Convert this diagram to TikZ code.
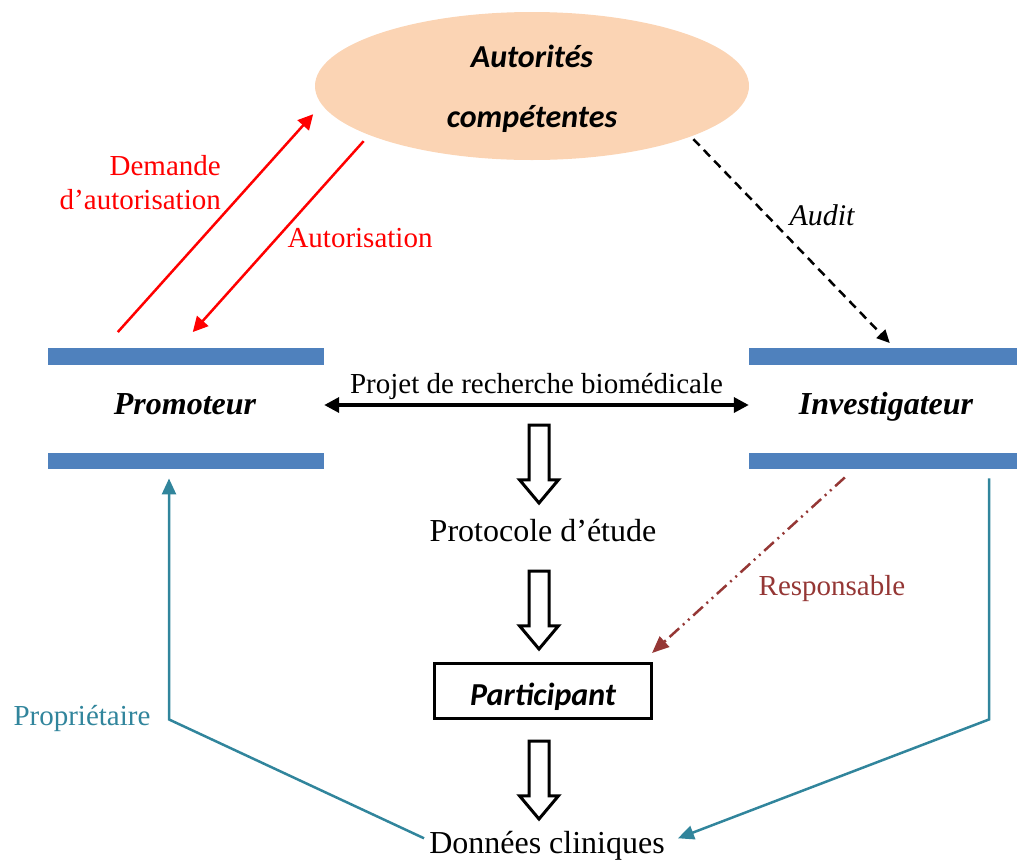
\documentclass[tikz,border=0pt]{standalone}
\usepackage{fontspec}
\setmainfont{Liberation Serif}
\newfontfamily\calibri{Carlito}
\usetikzlibrary{shapes.geometric, shapes.arrows, arrows.meta, calc, positioning}

\definecolor{peach}{HTML}{FBD4B4}
\definecolor{barblue}{HTML}{4F81BD}
\definecolor{propteal}{HTML}{31859C}
\definecolor{respred}{HTML}{953735}

\begin{document}
\begin{tikzpicture}[x=1pt, y=-1pt, >={Triangle[length=15pt,width=15pt]},
    txt/.style={inner sep=0pt, anchor=base, font=\fontsize{32}{38}\selectfont},
    lbl/.style={inner sep=0pt, anchor=base, font=\fontsize{29}{34}\selectfont},
    actor/.style={txt, font=\bfseries\itshape\fontsize{32}{38}\selectfont},
    bar/.style={fill=barblue, minimum width=276pt, minimum height=16.5pt, inner sep=0pt},
    hollow/.style={draw, line width=3pt, single arrow, rotate=-90, anchor=tail, minimum height=78pt, inner xsep=0pt, inner ysep=8.5pt, single arrow head extend=9.5pt, single arrow tip angle=80},
    req/.style={red, line width=2.5pt, ->},
    audit/.style={line width=2.5pt, dash pattern=on 9pt off 6pt, -{Triangle[length=13pt,width=12pt]}},
    resp/.style={respred, line width=2.5pt, dash pattern=on 13pt off 5pt on 2pt off 5pt on 2pt off 5pt, -{Triangle[length=17pt,width=14pt]}},
    owner/.style={propteal, line width=2.5pt, -{Triangle[length=16pt,width=14pt]}}]

    \useasboundingbox (0,0) rectangle (1017,863);

    % authorities
    \node[ellipse, fill=peach, minimum width=434pt, minimum height=148pt, inner sep=0pt, align=center, text depth=0pt,
          font=\calibri\bfseries\itshape\fontsize{32}{60}\selectfont] (auth) at (532,86) {Autorités\\compétentes};

    % the two actors between their bars
    \node[bar] (promotop) at (186,356.5) {};
    \node[bar] (promobot) at (186,461) {};
    \node[bar, minimum width=268pt] (invtop) at (883,356.5) {};
    \node[bar, minimum width=268pt] (invbot) at (883,461) {};
    \node[actor] (promo) at (185,414) {Promoteur};
    \node[actor] (inv) at (886,414) {Investigateur};

    \draw[<->, line width=3.5pt] ([yshift=-48.5pt]promotop.east) -- ([yshift=-48.5pt]invtop.west)
        node[lbl, midway, above=4pt] (projet) {Projet de recherche biomédicale};

    % study chain
    \node[hollow] (arr1) at (539,423.5) {};
    \node[txt] (protocole) at (543,541) {Protocole d’étude};
    \node[hollow] (arr2) at (539,569.5) {};
    \node[draw, line width=3pt, minimum width=217pt, minimum height=55pt, inner sep=0pt, text height=28pt, text depth=0pt,
          font=\calibri\bfseries\itshape\fontsize{32}{38}\selectfont] (part) at (543,691) {Participant};
    \node[hollow] (arr3) at (539,739.5) {};
    \node[txt] (donnees) at (547,853) {Données cliniques};

    % labels
    \node[lbl, red, anchor=east, align=right] (demande) at (221,183) {Demande\\d’autorisation};
    \node[lbl, red] (autor) at (360,247) {Autorisation};
    \node[lbl, font=\itshape\fontsize{30}{34}\selectfont] (auditlbl) at (822,225) {Audit};
    \node[lbl, respred] (resplbl) at (832,595) {Responsable};
    \node[lbl, propteal] (proplbl) at (82,725) {Propriétaire};

    % connectors
    \draw[req] ([xshift=70pt,yshift=16pt]promotop.north west) -- ([xshift=-18pt]auth.188);
    \draw[req] ([xshift=-11pt,yshift=-4pt]auth.198) -- ([xshift=145pt,yshift=16pt]promotop.north west);
    \draw[audit] ([xshift=4pt,yshift=-2pt]auth.342) -- ([xshift=141pt,yshift=5pt]invtop.north west);
    \draw[resp] ([xshift=96pt,yshift=-8pt]invbot.south west) -- ([xshift=-1pt,yshift=9pt]part.north east);
    \draw[owner] ([xshift=-5pt,yshift=7pt]donnees.west) -- ([xshift=-17pt,yshift=-250pt]promobot.south) -- ([xshift=-17pt,yshift=-9pt]promobot.south);
    \draw[owner] ([xshift=106pt,yshift=-9pt]invbot.south) -- ([xshift=106pt,yshift=-250pt]invbot.south) -- ([xshift=13pt,yshift=7pt]donnees.east);

\end{tikzpicture}
\end{document}
